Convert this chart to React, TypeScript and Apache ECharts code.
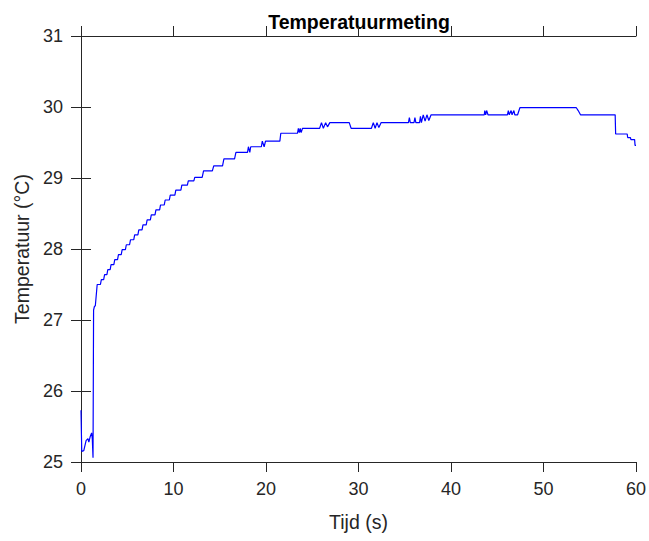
import React, { useEffect, useRef } from "react";
import * as echarts from "echarts";

// Time (s) and temperature (°C)
const timeS: number[] = [
  0.0, 0.08, 0.3, 0.55, 0.75, 0.85, 1.0, 1.15, 1.22, 1.3, 1.36, 1.45, 1.55, 1.75,
  2.1, 2.2, 2.45, 2.55, 2.8, 2.9, 3.15, 3.25, 3.55, 3.65, 3.95, 4.05, 4.35, 4.45,
  4.8, 4.9, 5.25, 5.35, 5.7, 5.8, 6.15, 6.25, 6.6, 6.7, 7.05, 7.15, 7.5, 7.6,
  8.0, 8.1, 8.5, 8.6, 9.0, 9.1, 9.55, 9.65, 10.15, 10.25, 10.8, 10.9, 11.5, 11.6,
  12.2, 12.3, 13.1, 13.25, 14.2, 14.35, 15.3, 15.45, 16.6, 16.75,
  18.0, 18.1, 18.25, 18.35, 18.45, 19.5, 19.6, 19.8, 19.95, 20.05,
  21.5, 21.6, 23.4, 23.5, 23.6, 23.7, 23.8, 23.95,
  25.8, 26.0, 26.2, 26.45, 26.65, 26.9,
  29.0, 29.2, 31.4, 31.6, 31.8, 32.0, 32.2, 32.45,
  35.4, 35.5, 35.6, 36.0, 36.1, 36.2, 36.6, 36.7, 36.8, 37.0, 37.2, 37.4, 37.6, 37.85,
  43.6, 43.65, 43.75, 43.85, 44.0, 46.1, 46.2, 46.3, 46.5, 46.6, 46.8, 46.9,
  47.2, 47.45, 53.55, 53.75, 54.0, 57.75, 57.8, 59.05, 59.1, 59.4, 59.45, 59.85, 59.9, 60.0,
];

const tempC: number[] = [
  25.73, 25.15, 25.16, 25.3, 25.33, 25.28, 25.36, 25.41, 25.33, 25.06, 27.14, 27.19, 27.2, 27.5,
  27.5, 27.57, 27.57, 27.64, 27.64, 27.71, 27.71, 27.78, 27.78, 27.85, 27.85, 27.92, 27.92, 27.99,
  27.99, 28.06, 28.06, 28.13, 28.13, 28.2, 28.2, 28.27, 28.27, 28.34, 28.34, 28.41, 28.41, 28.48,
  28.48, 28.55, 28.55, 28.62, 28.62, 28.69, 28.69, 28.76, 28.76, 28.83, 28.83, 28.9, 28.9, 28.96,
  28.96, 29.01, 29.01, 29.1, 29.1, 29.17, 29.17, 29.27, 29.27, 29.36,
  29.36, 29.44, 29.36, 29.44, 29.44, 29.44, 29.52, 29.44, 29.52, 29.52,
  29.52, 29.63, 29.63, 29.7, 29.64, 29.7, 29.64, 29.7,
  29.7, 29.78, 29.7, 29.78, 29.72, 29.78,
  29.78, 29.7, 29.7, 29.78, 29.7, 29.78, 29.71, 29.78,
  29.78, 29.85, 29.78, 29.78, 29.85, 29.78, 29.78, 29.87, 29.78, 29.89, 29.8, 29.89, 29.81, 29.89,
  29.89, 29.95, 29.89, 29.95, 29.89, 29.89, 29.95, 29.89, 29.95, 29.89, 29.95, 29.89,
  29.89, 29.99, 29.99, 29.95, 29.89, 29.89, 29.62, 29.62, 29.57, 29.57, 29.54, 29.54, 29.46, 29.46,
];

const xTicks = { min: 0, max: 60, interval: 10 };
const yTicks = { min: 25, max: 31, interval: 1 };

const titleText = "Temperatuurmeting";
const xName = "Tijd (s)";
const yName = "Temperatuur (°C)";

export default function App() {
  const ref = useRef<HTMLDivElement>(null);
  useEffect(() => {
    document.body.style.margin = "0";
    if (!ref.current) return;
    const chart = echarts.init(ref.current, null, { renderer: "svg" });
    const axisColor = "#262626";
    const font = "Liberation Sans, Arial, sans-serif";
    const data = timeS.map((t, i) => [t, tempC[i]]);
    const tickStyle = { show: true, inside: false, length: 10, lineStyle: { color: axisColor, width: 1 } };
    const lineStyle = { show: true, lineStyle: { color: axisColor, width: 1 } };
    chart.setOption({
      animation: false,
      backgroundColor: "#ffffff",
      graphic: [
        {
          type: "text",
          x: 359,
          y: 22,
          style: {
            text: titleText,
            textAlign: "center",
            textVerticalAlign: "middle",
            fontFamily: font,
            fontSize: 19.5,
            fontWeight: "bold",
            fill: "#000000",
          },
        },
      ],
      grid: { left: 81, right: 12, top: 36, bottom: 79, containLabel: false },
      xAxis: [
        {
          type: "value",
          ...xTicks,
          position: "bottom",
          axisLine: lineStyle,
          axisTick: tickStyle,
          splitLine: { show: false },
          axisLabel: { color: axisColor, fontFamily: font, fontSize: 18, margin: 18, showMinLabel: true, showMaxLabel: true },
          name: xName,
          nameLocation: "middle",
          nameGap: 50,
          nameTextStyle: { color: axisColor, fontFamily: font, fontSize: 19.5 },
        },
        {
          type: "value",
          ...xTicks,
          position: "top",
          axisLine: lineStyle,
          axisTick: tickStyle,
          splitLine: { show: false },
          axisLabel: { show: false },
        },
      ],
      yAxis: [
        {
          type: "value",
          ...yTicks,
          position: "left",
          axisLine: lineStyle,
          axisTick: tickStyle,
          splitLine: { show: false },
          axisLabel: { color: axisColor, fontFamily: font, fontSize: 18, margin: 18, showMinLabel: true, showMaxLabel: true },
          name: yName,
          nameLocation: "middle",
          nameGap: 45,
          nameTextStyle: { color: axisColor, fontFamily: font, fontSize: 19.5 },
        },
        {
          type: "value",
          ...yTicks,
          position: "right",
          axisLine: lineStyle,
          axisTick: tickStyle,
          splitLine: { show: false },
          axisLabel: { show: false },
        },
      ],
      series: [
        {
          type: "line",
          xAxisIndex: 0,
          yAxisIndex: 0,
          data,
          showSymbol: false,
          symbol: "none",
          lineStyle: { color: "#0000ff", width: 1.2 },
          z: 1,
        },
      ],
    });
    return () => chart.dispose();
  }, []);
  return <div ref={ref} style={{ width: 649, height: 541 }} />;
}
